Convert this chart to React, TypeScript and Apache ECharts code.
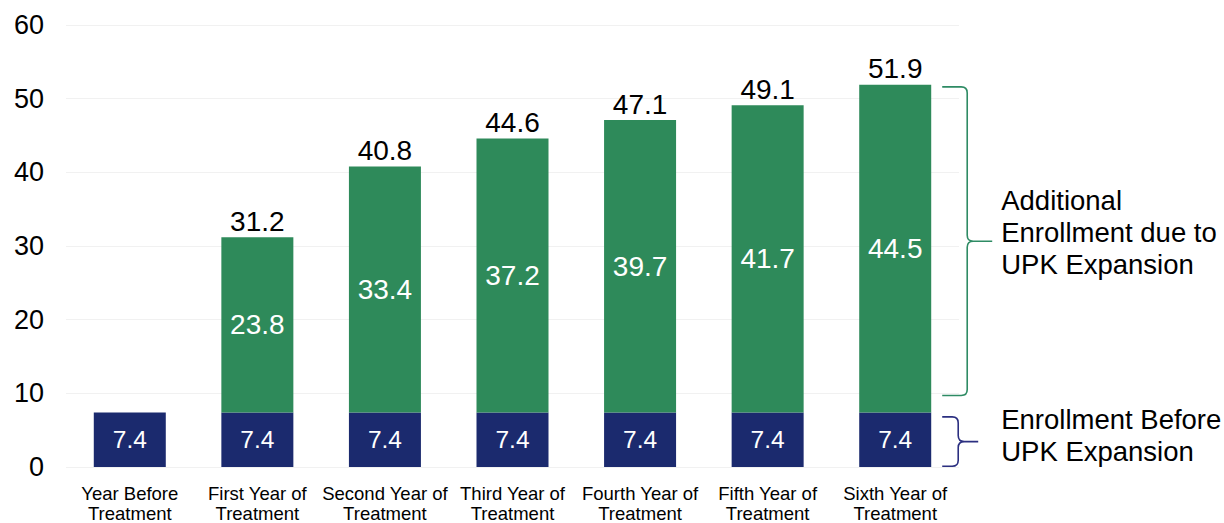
import React, { useEffect, useRef } from "react";
import * as echarts from "echarts";

const categories = [
  "Year Before\nTreatment",
  "First Year of\nTreatment",
  "Second Year of\nTreatment",
  "Third Year of\nTreatment",
  "Fourth Year of\nTreatment",
  "Fifth Year of\nTreatment",
  "Sixth Year of\nTreatment",
];
const beforeValues = [7.4, 7.4, 7.4, 7.4, 7.4, 7.4, 7.4];
const additionalValues = [null, 23.8, 33.4, 37.2, 39.7, 41.7, 44.5];
const totalValues = [null, 31.2, 40.8, 44.6, 47.1, 49.1, 51.9];
const yTicks = { min: 0, max: 60, interval: 10 };
// brace annotations: [category index, low value, high value, text, colour key]
const braces = [
  [6, 9.7, 51.6, "Additional\nEnrollment due to\nUPK Expansion", "green"],
  [6, 0.1, 6.8, "Enrollment Before\nUPK Expansion", "navy"],
];

const GREEN = "#2E8A5A";
const NAVY = "#1B2A6E";
const FONT = '"Liberation Sans", Arial, sans-serif';

export default function App() {
  const ref = useRef<HTMLDivElement>(null);
  useEffect(() => {
    document.body.style.margin = "0";
    const chart = echarts.init(ref.current!, null, { renderer: "svg" });
    chart.setOption({
      animation: false,
      backgroundColor: "#ffffff",
      textStyle: { fontFamily: FONT },
      grid: { left: 66, right: 265, top: 25, bottom: 54, containLabel: false },
      xAxis: {
        type: "category",
        data: categories,
        axisLine: { show: false },
        axisTick: { show: false },
        axisLabel: {
          interval: 0,
          color: "#000",
          fontSize: 18.5,
          lineHeight: 20,
          margin: 16,
          fontFamily: FONT,
        },
      },
      yAxis: {
        type: "value",
        min: yTicks.min,
        max: yTicks.max,
        interval: yTicks.interval,
        axisLine: { show: false },
        axisTick: { show: false },
        splitLine: { lineStyle: { color: "#f1f1f1", width: 1 } },
        axisLabel: { color: "#000", fontSize: 27, margin: 22, fontFamily: FONT },
      },
      series: [
        {
          type: "bar",
          stack: "total",
          data: beforeValues,
          barWidth: 72,
          itemStyle: { color: NAVY },
          label: {
            show: true,
            position: "inside",
            color: "#fff",
            fontSize: 24.5,
            fontFamily: FONT,
          },
        },
        {
          type: "bar",
          stack: "total",
          data: additionalValues,
          barWidth: 72,
          itemStyle: { color: GREEN },
          label: {
            show: true,
            position: "inside",
            color: "#fff",
            fontSize: 28,
            fontFamily: FONT,
          },
        },
        {
          type: "scatter",
          data: totalValues,
          symbolSize: 0,
          silent: true,
          itemStyle: { opacity: 1 },
          label: {
            show: true,
            position: "top",
            distance: 2,
            color: "#000",
            opacity: 1,
            fontSize: 28,
            fontFamily: FONT,
          },
        },
        {
          type: "custom",
          clip: false,
          silent: true,
          data: braces,
          renderItem: (params: any, api: any) => {
            const item = braces[params.dataIndex];
            const isGreen = item[4] === "green";
            const color = isGreen ? "#2E8B64" : "#2B2F80";
            const top = api.coord([api.value(0), api.value(2)]);
            const bot = api.coord([api.value(0), api.value(1)]);
            const cx = top[0];
            const halfBar = 36;
            const x0 = cx + halfBar + 11;
            const x1 = x0 + (isGreen ? 25 : 16);
            const tip = x1 + (isGreen ? 25 : 20);
            const yt = top[1];
            const yb = bot[1];
            const ym = (yt + yb) / 2;
            const r = 6;
            const d =
              `M ${x0} ${yt} L ${x1 - r} ${yt} Q ${x1} ${yt} ${x1} ${yt + r} ` +
              `L ${x1} ${ym - r} Q ${x1} ${ym} ${x1 + r} ${ym} L ${tip} ${ym} ` +
              `M ${x1 + r} ${ym} Q ${x1} ${ym} ${x1} ${ym + r} ` +
              `L ${x1} ${yb - r} Q ${x1} ${yb} ${x1 - r} ${yb} L ${x0} ${yb}`;
            return {
              type: "group",
              children: [
                {
                  type: "path",
                  shape: { pathData: d },
                  style: { fill: "none", stroke: color, lineWidth: 1.6 },
                },
                {
                  type: "text",
                  x: x0 + 59,
                  y: ym - (isGreen ? 9 : 6),
                  style: {
                    text: item[3],
                    fill: "#000",
                    fontSize: 27.5,
                    fontFamily: FONT,
                    lineHeight: 32,
                    verticalAlign: "middle",
                    align: "left",
                  },
                },
              ],
            };
          },
        },
      ],
    });
    return () => chart.dispose();
  }, []);
  return <div ref={ref} style={{ width: 1224, height: 523 }} />;
}
